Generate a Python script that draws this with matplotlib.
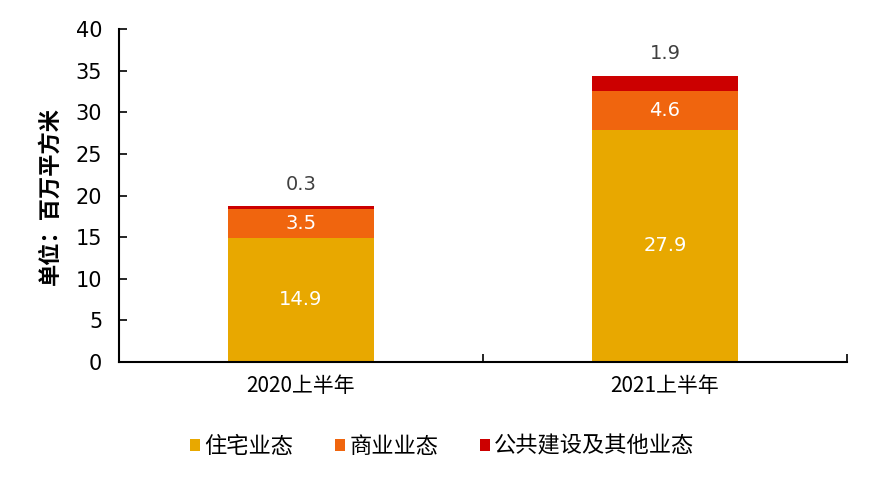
import matplotlib
matplotlib.use('Agg')
from matplotlib import pyplot as plt
from matplotlib.patches import Patch
import numpy as np

plt.rcParams['font.family'] = ['DejaVu Sans', 'Noto Sans CJK SC']

categories = ['2020上半年', '2021上半年']
residential = [14.9, 27.9]
commercial = [3.5, 4.6]
public_other = [0.3, 1.9]
series_names = ['住宅业态', '商业业态', '公共建设及其他业态']
colors = ['#E8A800', '#F0650E', '#CC0000']
yticks = [0, 5, 10, 15, 20, 25, 30, 35, 40]

fig = plt.figure(figsize=(8.76, 4.8), dpi=100)
ax = fig.add_axes([0.1358, 0.2458, 0.8311, 0.6938])

x = np.arange(len(categories))
res = np.array(residential)
com = np.array(commercial)
pub = np.array(public_other)

ax.bar(x, res, width=0.4, color=colors[0])
ax.bar(x, com, width=0.4, bottom=res, color=colors[1])
ax.bar(x, pub, width=0.4, bottom=res + com, color=colors[2])

for i in range(len(x)):
	ax.text(x[i], res[i] / 2, '%.1f' % res[i], ha='center', va='center',
		color='white', fontsize=14)
	ax.text(x[i], res[i] + com[i] / 2, '%.1f' % com[i], ha='center', va='center',
		color='white', fontsize=14)
	ax.annotate('%.1f' % pub[i], (x[i], res[i] + com[i] + pub[i]),
		xytext=(0, 9), textcoords='offset points', ha='center', va='bottom',
		color='#404040', fontsize=14)

ax.set_xlim(-0.5, 1.5)
ax.set_ylim(0, 40)
ax.set_yticks(yticks)
ax.tick_params(axis='y', direction='in', length=6, width=1.2, labelsize=15, pad=12)
ax.set_xticks([-0.5, 0.5, 1.5])
ax.set_xticklabels([])
ax.set_xticks(x, minor=True)
ax.set_xticklabels(categories, minor=True, fontsize=15,
	family=['Noto Sans CJK SC', 'DejaVu Sans'])
ax.tick_params(axis='x', which='major', direction='in', length=6, width=1.2)
ax.tick_params(axis='x', which='minor', length=0, pad=9)

for s in ['top', 'right']:
	ax.spines[s].set_visible(False)
for s in ['left', 'bottom']:
	ax.spines[s].set_linewidth(1.5)

ax.set_ylabel('单位：百万平方米', fontsize=16, fontweight='bold',
	family=['Noto Sans CJK SC', 'DejaVu Sans'], labelpad=10)

handles = [Patch(facecolor=c) for c in colors]
fig.legend(handles, series_names, loc='center', bbox_to_anchor=(0.505, 0.07),
	ncol=3, frameon=False, handlelength=0.42, handleheight=0.42,
	handletextpad=0.2, columnspacing=1.9,
	prop={'family': ['Noto Sans CJK SC', 'DejaVu Sans'], 'size': 16})

fig.savefig('out.png', dpi=100)
